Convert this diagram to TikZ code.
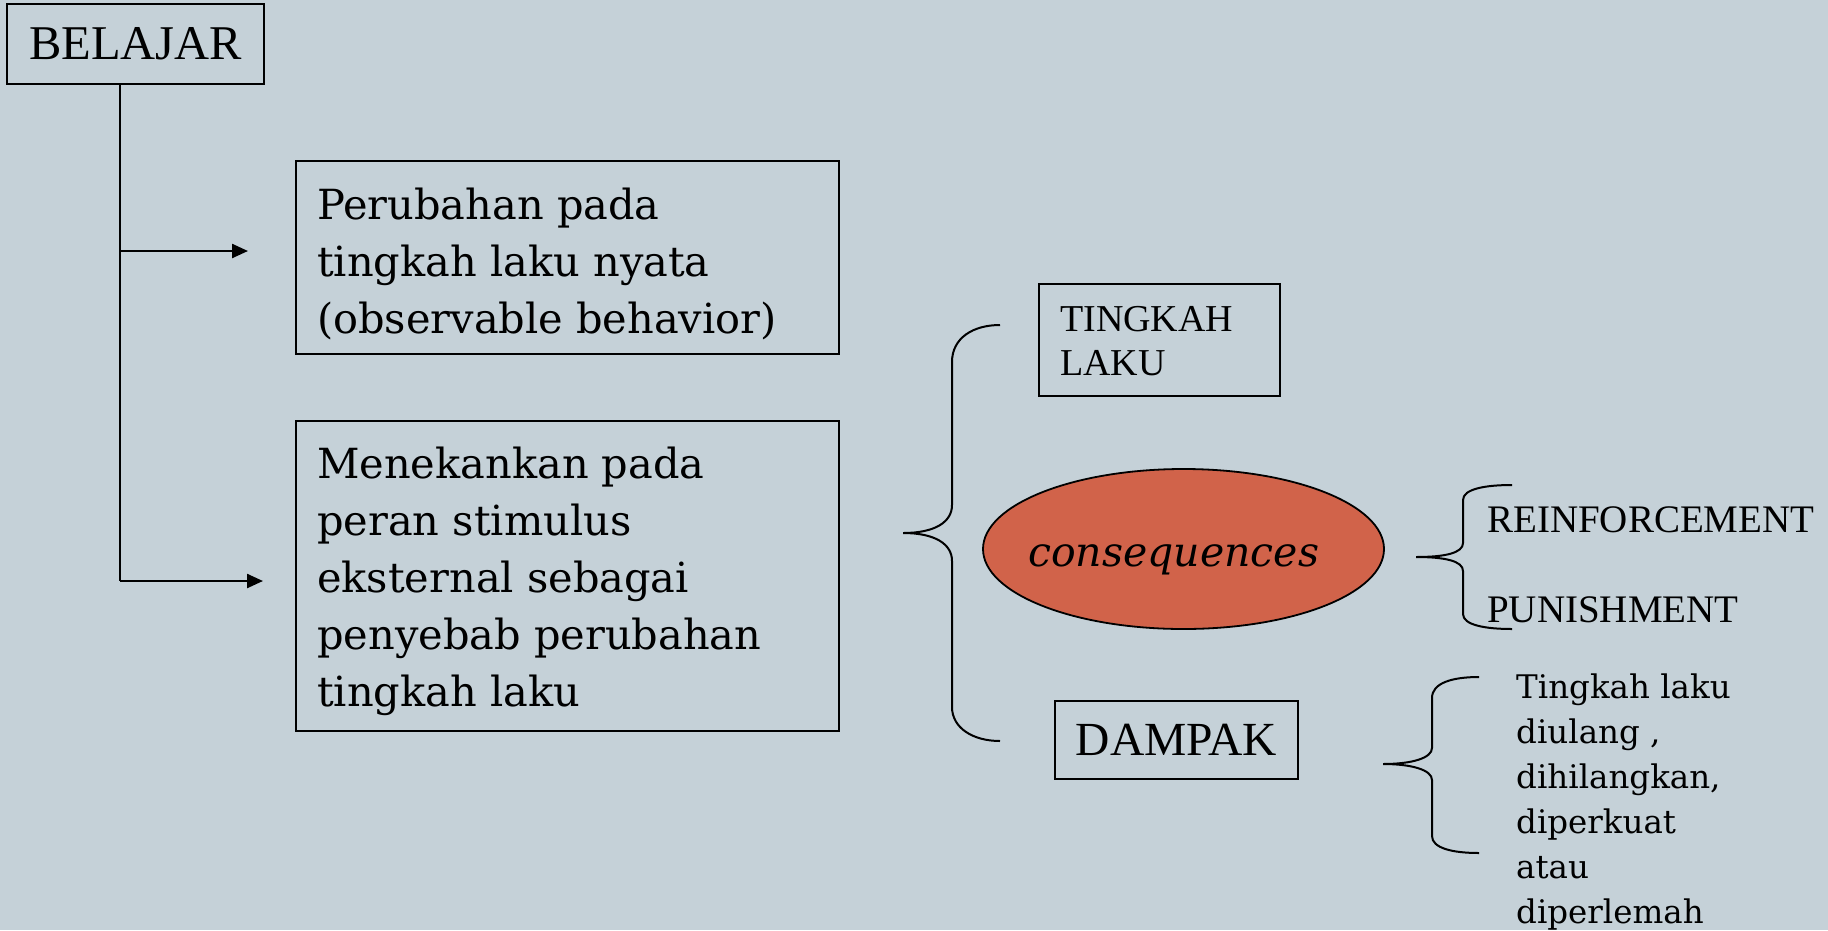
\documentclass[tikz,border=0pt]{standalone}
\usepackage{fontspec}
\setmainfont{Liberation Serif}
\newfontfamily\geo{DejaVu Serif}
\usetikzlibrary{shapes.geometric,arrows.meta}
\definecolor{bg}{RGB}{197,209,216}
\definecolor{consfill}{RGB}{209,99,74}
\begin{document}
\begin{tikzpicture}[x=1pt,y=-1pt,
  box/.style={draw=black, line width=2.2pt, rectangle, inner sep=0pt},
  geotext/.style={font=\geo\fontsize{41.5}{57}\selectfont, align=left, inner sep=0pt},
  listtext/.style={font=\geo\fontsize{32.5}{45}\selectfont, align=left, inner sep=0pt},
  captext/.style={font=\fontsize{39}{44}\selectfont, align=left, inner sep=0pt},
  conn/.style={line width=2.4pt},
  bracel/.style={line width=2pt},
  tip/.style={-{Triangle[length=16pt,width=14pt]}}
]
\fill[bg] (0,0) rectangle (1828,930);
\useasboundingbox (0,0) rectangle (1828,930);

% boxes
\node[box, minimum width=257pt, minimum height=80pt, font=\fontsize{48.5}{58}\selectfont] (bel) at (135.5,44) {BELAJAR};
\node[box, minimum width=543pt, minimum height=193pt] (b1) at (567.5,257.5) {};
\node[box, minimum width=543pt, minimum height=310pt] (b2) at (567.5,576) {};
\node[box, minimum width=241pt, minimum height=112pt] (tl) at (1159.5,340) {};
\node[box, minimum width=243pt, minimum height=78pt, font=\fontsize{47.5}{56}\selectfont] (dam) at (1176.5,740) {DAMPAK};
\node[ellipse, draw=black, line width=1.8pt, fill=consfill, minimum width=401pt, minimum height=160pt, inner sep=0pt] (cons) at (1183.5,549) {};

% texts (base anchor = last line's baseline)
\node[geotext, anchor=base west] (t1) at (317,333) {Perubahan pada\\tingkah laku nyata\\(observable behavior)};
\node[geotext, anchor=base west] (t2) at (317,706) {Menekankan pada\\peran stimulus\\eksternal sebagai\\penyebab perubahan\\tingkah laku};
\node[captext, font=\fontsize{38}{44}\selectfont, anchor=base west] (tltext) at (1060,375) {TINGKAH\\LAKU};
\node[font=\geo\itshape\fontsize{41}{50}\selectfont, inner sep=0pt, anchor=base west] (constext) at (1028,566) {consequences};
\node[captext, anchor=base west] (rein) at (1487,532) {REINFORCEMENT};
\node[captext, anchor=base west] (pun) at (1487,622) {PUNISHMENT};
\node[listtext, anchor=base west] (list) at (1516,923) {Tingkah laku\\diulang ,\\dihilangkan,\\diperkuat\\atau\\diperlemah};

% connectors
\coordinate (j1) at (120,251);
\coordinate (j2) at (120,581);
\coordinate (a1) at (248,251);
\coordinate (a2) at (263,581);
\draw[conn] (bel.south -| j1) -- (j2);
\draw[conn, tip] (j1) -- (a1);
\draw[conn, tip] (j2) -- (a2);

% big brace
\draw[bracel] (1000,325) .. controls (973,325) and (952,338) .. (952,362)
  -- (952,505) .. controls (952,522) and (935,533) .. (903,533)
  .. controls (935,533) and (952,544) .. (952,561)
  -- (952,707) .. controls (952,728) and (973,741) .. (1000,741);

% brace for reinforcement / punishment
\draw[bracel] (1512,485) .. controls (1485,485) and (1463,489) .. (1463,500)
  -- (1463,543) .. controls (1463,553) and (1445,557) .. (1416,557)
  .. controls (1445,557) and (1463,561) .. (1463,571)
  -- (1463,614) .. controls (1463,625) and (1485,629) .. (1512,629);

% brace for list
\draw[bracel] (1479,677) .. controls (1452,677) and (1432,683) .. (1432,698)
  -- (1432,748) .. controls (1432,758) and (1412,764) .. (1383,764)
  .. controls (1412,764) and (1432,770) .. (1432,780)
  -- (1432,836) .. controls (1432,848) and (1452,853) .. (1479,853);
\end{tikzpicture}
\end{document}
